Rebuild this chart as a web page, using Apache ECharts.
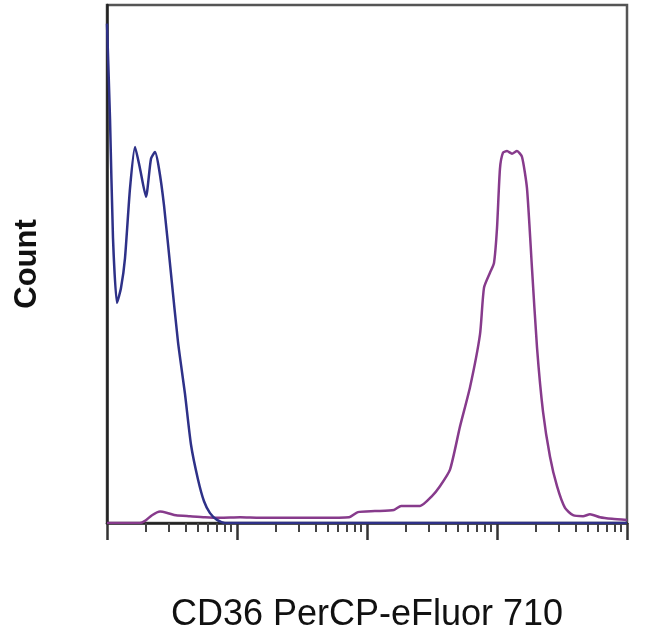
<!DOCTYPE html>
<html>
<head>
<meta charset="utf-8">
<script src="https://cdn.jsdelivr.net/npm/echarts@6/dist/echarts.min.js"></script>
<style>html,body{margin:0;padding:0;background:#fff;}#c{width:650px;height:638px;}</style>
</head>
<body>
<div id="c"></div>
<script>
// Fluorescence intensity (log scale) and event counts
const blueX = [1.0, 1.055, 1.112, 1.194, 1.282, 1.375, 1.503, 1.642, 1.795, 1.995, 2.18, 2.34, 2.512, 2.745, 3.107, 3.518, 3.981, 4.428, 5.012, 5.575, 6.2, 7.02, 8.085, 20, 100, 1000, 10000];
const blueY = [96.4, 78.0, 55.0, 42.5, 45.4, 51.1, 64.6, 72.6, 68.4, 63.0, 70.3, 71.6, 68.4, 61.3, 48.1, 34.9, 24.9, 15.1, 8.4, 4.2, 1.9, 0.6, 0, 0, 0, 0, 0];
const purpleX = [1.0, 1.79, 1.96, 2.22, 2.56, 2.95, 3.39, 4.35, 5.67, 7.41, 10.6, 15.0, 25.5, 43.5, 72.8, 85.1, 115, 161, 183, 256, 316, 364, 435, 519, 620, 740, 794, 883, 948, 1000, 1054, 1112, 1194, 1304, 1425, 1556, 1701, 1858, 2031, 2259, 2557, 2895, 3336, 3845, 4590, 5190, 6197, 7670, 10000];
const purpleY = [0, 0, 0.4, 1.5, 2.2, 1.9, 1.5, 1.3, 1.1, 1.0, 1.1, 1.0, 1.0, 1.0, 1.1, 2.1, 2.3, 2.5, 3.3, 3.3, 5.2, 7.1, 10.3, 18.6, 26.2, 36.4, 45.4, 48.3, 50.2, 56.9, 68.4, 71.5, 71.8, 71.3, 71.8, 70.7, 64.6, 49.2, 33.9, 21.5, 12.8, 7.1, 2.9, 1.5, 1.3, 1.7, 1.1, 0.8, 0.6];
const majorTicks = [1, 10, 100, 1000, 10000];
const minorTicks = [2,3,4,5,6,7,8,9,20,30,40,50,60,70,80,90,200,300,400,500,600,700,800,900,2000,3000,4000,5000,6000,7000,8000,9000];
const xTitle = 'CD36 PerCP-eFluor 710';
const yTitle = 'Count';

const pair = (xs, ys) => xs.map((v, i) => [v, ys[i]]);
const chart = echarts.init(document.getElementById('c'), null, {renderer: 'canvas'});
chart.setOption({
  animation: false,
  backgroundColor: '#fff',
  grid: {left: 107, right: 23, top: 5, bottom: 111, show: true, borderColor: '#555', borderWidth: 2.5, backgroundColor: 'transparent'},
  xAxis: [{
    type: 'log', logBase: 10, min: 1, max: 10000, position: 'bottom',
    axisLine: {show: true, lineStyle: {color: '#222', width: 2.5}},
    axisTick: {show: true, customValues: majorTicks, length: 17, lineStyle: {color: '#333', width: 2.5}},
    axisLabel: {show: false}, splitLine: {show: false},
    name: xTitle, nameLocation: 'middle', nameGap: 74,
    nameTextStyle: {fontFamily: 'Liberation Sans, Arial, sans-serif', fontSize: 36, color: '#111'}
  }, {
    type: 'log', logBase: 10, min: 1, max: 10000, position: 'bottom',
    axisLine: {show: false},
    axisTick: {show: true, customValues: minorTicks, length: 9, lineStyle: {color: '#444', width: 2}},
    axisLabel: {show: false}, splitLine: {show: false}
  }],
  yAxis: {
    type: 'value', min: 0, max: 100,
    axisLine: {show: true, lineStyle: {color: '#222', width: 2.5}},
    axisTick: {show: false}, axisLabel: {show: false}, splitLine: {show: false},
    name: yTitle, nameLocation: 'middle', nameGap: 64,
    nameTextStyle: {fontFamily: 'Liberation Sans, Arial, sans-serif', fontSize: 31, fontWeight: 'bold', color: '#111'}
  },
  series: [{
    type: 'line', xAxisIndex: 0, data: pair(purpleX, purpleY), showSymbol: false, smooth: 0.2,
    lineStyle: {color: '#873b8c', width: 2.5}, z: 3
  }, {
    type: 'line', xAxisIndex: 0, data: pair(blueX, blueY), showSymbol: false, smooth: 0.2,
    lineStyle: {color: '#2e3188', width: 2.5}, z: 4
  }]
});
</script>
</body>
</html>
